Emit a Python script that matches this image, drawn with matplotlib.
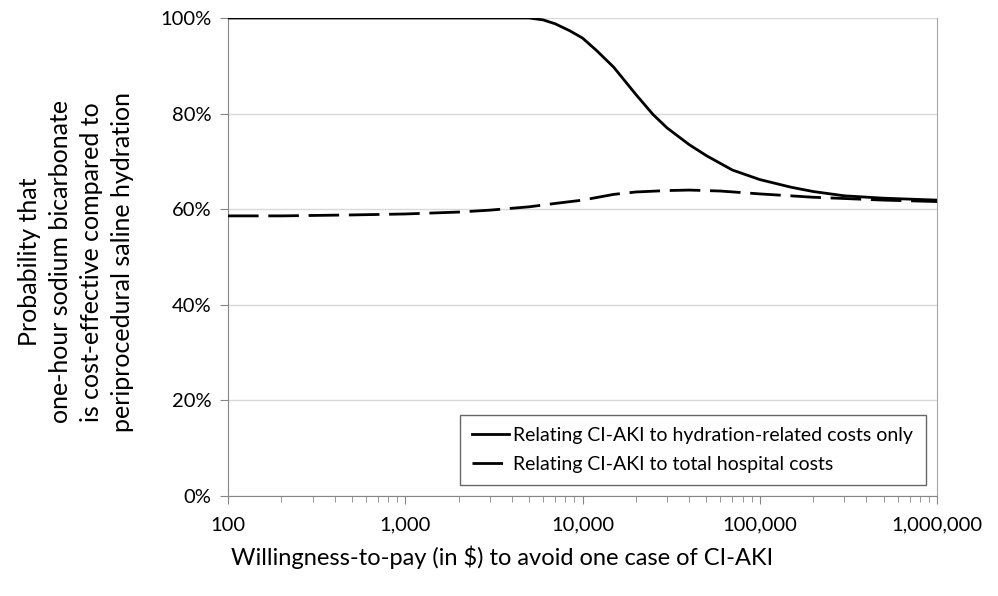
import matplotlib
matplotlib.use("Agg")
from matplotlib import pyplot as plt
from matplotlib.ticker import FuncFormatter, LogLocator, NullFormatter

plt.rcParams['font.family'] = ['Lato', 'DejaVu Sans']

# willingness-to-pay ($) and probability (%)
wtp_hydr = [100, 1000, 3000, 5000, 6000, 7000, 8500, 10000, 12000, 15000, 20000,
            25000, 30000, 40000, 50000, 70000, 100000, 150000, 200000, 300000,
            500000, 1000000]
prob_hydr = [100, 100, 100, 100, 99.6, 98.8, 97.3, 95.8, 93.2, 89.7, 84.0,
             79.8, 77.0, 73.5, 71.2, 68.2, 66.2, 64.6, 63.7, 62.8, 62.3, 61.9]

wtp_total = [100, 200, 500, 1000, 2000, 3000, 5000, 7000, 10000, 15000, 20000,
             30000, 40000, 60000, 100000, 200000, 500000, 1000000]
prob_total = [58.6, 58.6, 58.8, 59.0, 59.4, 59.8, 60.5, 61.2, 61.9, 63.1, 63.6,
              63.9, 64.0, 63.8, 63.2, 62.5, 61.9, 61.6]

label_hydr = "Relating CI-AKI to hydration-related costs only"
label_total = "Relating CI-AKI to total hospital costs"
x_ticks = [100, 1000, 10000, 100000, 1000000]
y_ticks = [0, 20, 40, 60, 80, 100]

fig = plt.figure(figsize=(9.98, 5.96), dpi=100)
ax = fig.add_axes([0.2285, 0.1678, 0.7104, 0.802])

ax.plot(wtp_hydr, prob_hydr, color='black', lw=2.0, label=label_hydr, zorder=3)
ax.plot(wtp_total, prob_total, color='black', lw=2.0, dashes=(11, 3.5),
        label=label_total, zorder=3)

ax.set_xscale('log')
ax.set_xlim(100, 1000000)
ax.set_ylim(0, 100)
ax.set_xticks(x_ticks)
ax.xaxis.set_major_formatter(FuncFormatter(lambda v, p: "{:,}".format(int(round(v)))))
ax.xaxis.set_minor_locator(LogLocator(base=10, subs=range(2, 10)))
ax.xaxis.set_minor_formatter(NullFormatter())
ax.set_yticks(y_ticks)
ax.yaxis.set_major_formatter(FuncFormatter(lambda v, p: "%d%%" % v))

ax.grid(axis='y', color='#d9d9d9', lw=1.0)
ax.set_axisbelow(True)
for s in ['left', 'bottom']:
	ax.spines[s].set_color('#868686')
for s in ['right', 'top']:
	ax.spines[s].set_color('#a6a6a6')
ax.spines['top'].set_visible(False)

ax.tick_params(axis='both', which='major', direction='out', length=6, color='#868686',
               labelsize=14.5, pad=6)
ax.tick_params(axis='x', which='minor', direction='out', length=4, color='#868686')
ax.tick_params(axis='x', which='major', pad=9)

# x label is centred on the figure, not on the axes
ax.set_xlabel("Willingness-to-pay (in $) to avoid one case of CI-AKI", fontsize=17)
ax.xaxis.set_label_coords(0.387, -0.128)
ax.xaxis.label.set_va('center')

ax.set_ylabel("Probability that\none-hour sodium bicarbonate\nis cost-effective compared to\n"
              "periprocedural saline hydration", fontsize=18, linespacing=1.42)
ax.yaxis.set_label_coords(-0.214, 0.49)
ax.yaxis.label.set_va('center')

leg = ax.legend(loc='lower right', bbox_to_anchor=(0.984, 0.022), fontsize=14,
                frameon=True, fancybox=False, edgecolor='#404040', handlelength=1.9,
                handletextpad=0.2, borderpad=0.65, borderaxespad=0.0, labelspacing=0.6)
leg.get_frame().set_linewidth(1.0)

fig.savefig("out.png", dpi=100)
